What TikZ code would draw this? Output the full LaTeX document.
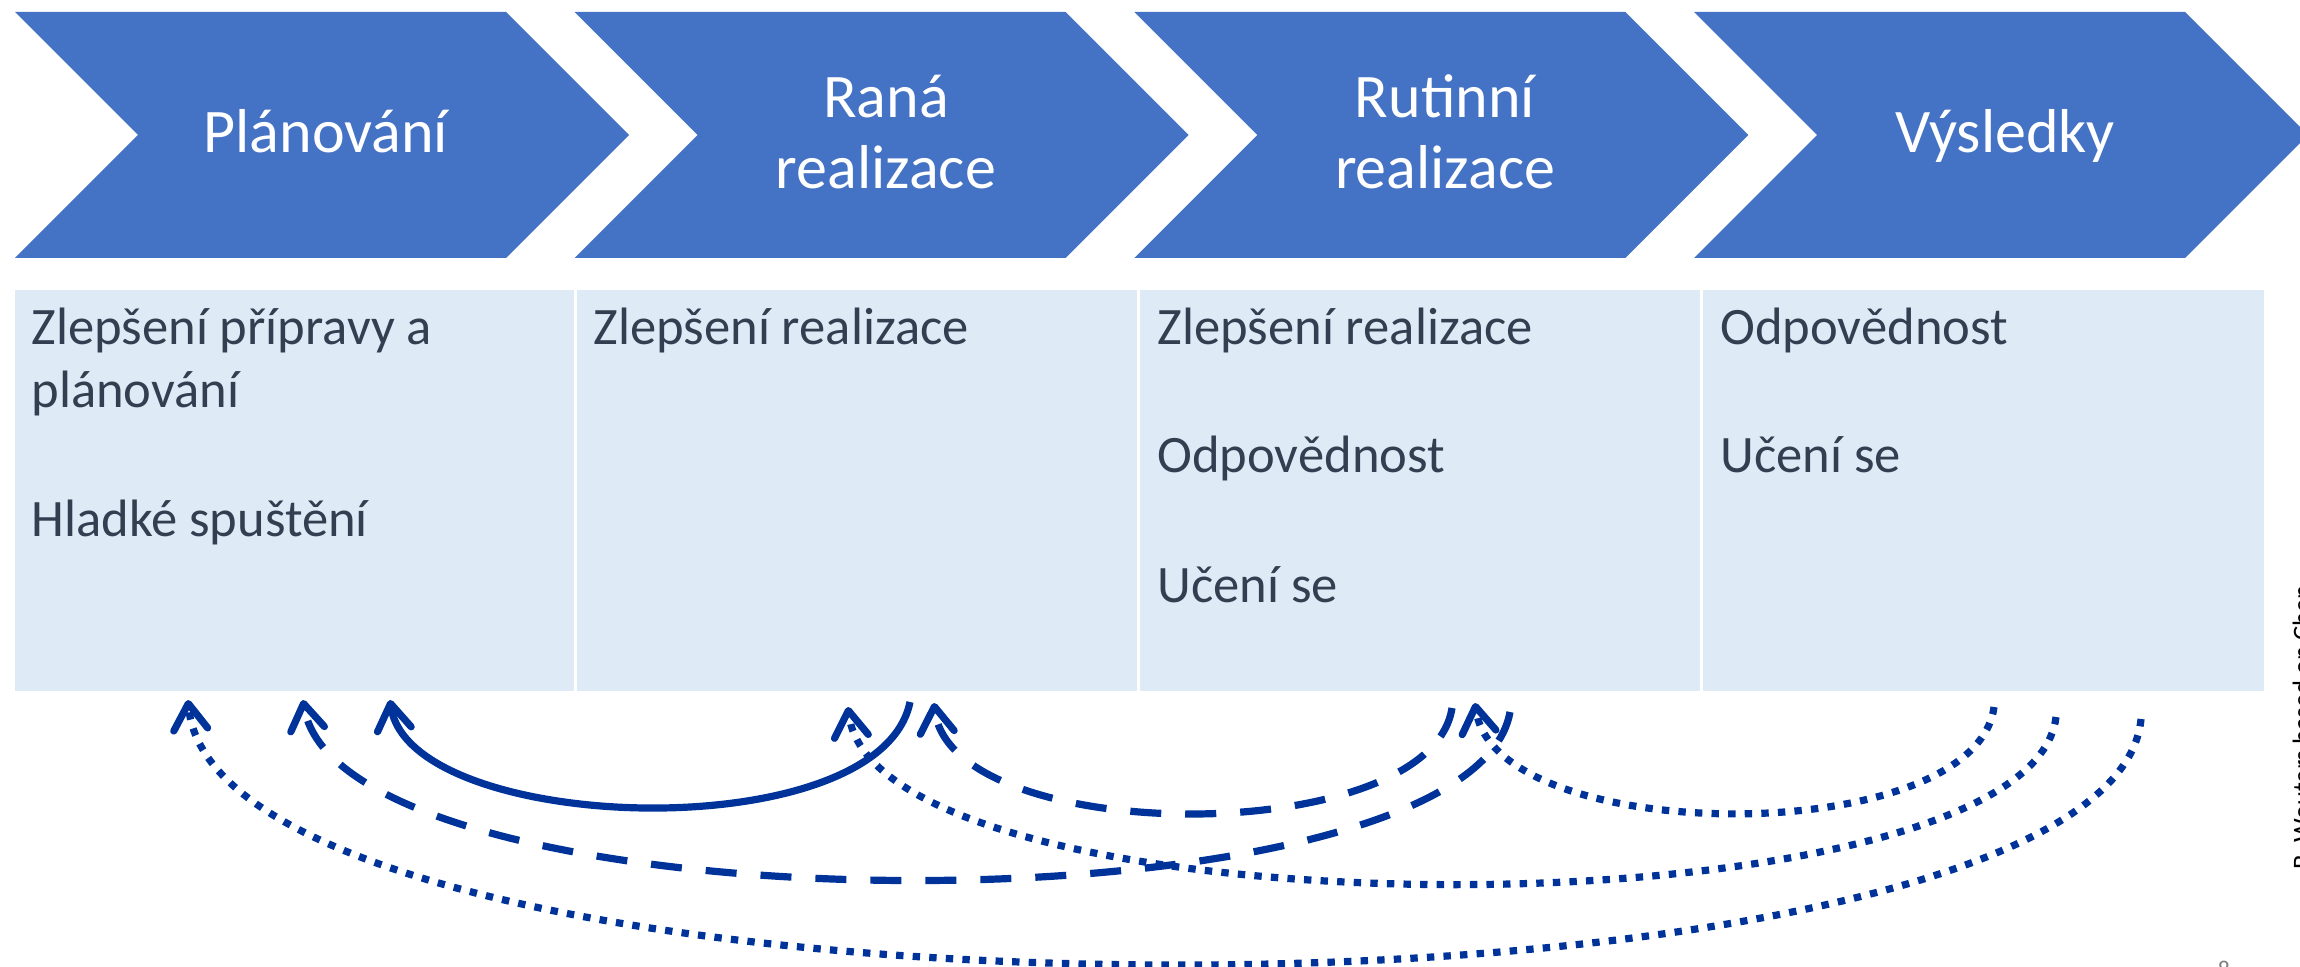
\documentclass[tikz,border=0pt]{standalone}
\usepackage{fontspec}
\setmainfont{Carlito}
\usetikzlibrary{arrows.meta}
\definecolor{chev}{RGB}{68,114,196}
\definecolor{cellc}{RGB}{222,234,246}
\definecolor{txtc}{RGB}{51,63,80}
\definecolor{arrc}{RGB}{0,51,153}
\tikzset{
  chevlabel/.style={text=white, inner sep=0pt, anchor=base, font=\fontsize{31}{35}\selectfont},
  cellbox/.style={fill=cellc, draw=none, inner sep=0pt, anchor=north west, minimum height=200.5pt},
  celltext/.style={text=txtc, inner sep=0pt, anchor=base west, font=\fontsize{26.3}{31}\selectfont},
  conn/.style={draw=arrc, line width=3.6pt, -{Straight Barb[length=13pt,width=17pt,round]}},
  dashedconn/.style={conn, dash pattern=on 15.5pt off 12pt},
  dottedconn/.style={conn, dash pattern=on 3.7pt off 4.6pt},
}
\begin{document}
\begin{tikzpicture}[x=0.5pt,y=-0.5pt]
\useasboundingbox (0,0) rectangle (2300,967);
% chevrons
\foreach \L in {15,574.7,1134.4,1694.1}
  \fill[chev] (\L,12) -- (\L+491,12) -- (\L+614,135) -- (\L+491,258) -- (\L,258) -- (\L+123,135) -- cycle;
\node[chevlabel] (h1) at (326,153) {Plánování};
\node[chevlabel] (h2a) at (886,118) {Raná};
\node[chevlabel] (h2b) at (886,189) {realizace};
\node[chevlabel] (h3a) at (1445,118) {Rutinní};
\node[chevlabel] (h3b) at (1445,189) {realizace};
\node[chevlabel] (h4) at (2005,153) {Výsledky};
% cells
\node[cellbox, minimum width=279.5pt] (c1) at (15,290) {};
\node[cellbox, minimum width=280pt] (c2) at (577,290) {};
\node[cellbox, minimum width=280pt] (c3) at (1140,290) {};
\node[cellbox, minimum width=280.5pt] (c4) at (1703,290) {};
% cell texts
\node[celltext] (t11) at (31,345) {Zlepšení přípravy a};
\node[celltext] (t12) at (31,408) {plánování};
\node[celltext] (t13) at (31,537) {Hladké spuštění};
\node[celltext] (t21) at (593,345) {Zlepšení realizace};
\node[celltext] (t31) at (1157,345) {Zlepšení realizace};
\node[celltext] (t32) at (1157,473) {Odpovědnost};
\node[celltext] (t33) at (1157,602) {Učení se};
\node[celltext] (t41) at (1720,345) {Odpovědnost};
\node[celltext] (t42) at (1720,473) {Učení se};
% side note (cut by the right edge, as in the reference) and page number
\node[rotate=90, anchor=base west, inner sep=0pt, text=black, font=\fontsize{13.3}{16}\selectfont] (src) at (2311,870) {B. Wouters based on Chen};
\node[anchor=north, inner sep=0pt, text=gray, font=\fontsize{12}{14}\selectfont] (pg) at (2224,961) {8};
% connector end points
\coordinate (sS) at (910,702);  \coordinate (eS) at (390,700);
\coordinate (sA) at (1452,708); \coordinate (eA) at (934,703);
\coordinate (sB) at (1510,712); \coordinate (eB) at (303,700);
\coordinate (sC) at (1994,707); \coordinate (eC) at (1475,703);
\coordinate (sD) at (2056,717); \coordinate (eD) at (848,707);
\coordinate (sE) at (2141,719); \coordinate (eE) at (188,700);
% connectors
\draw[conn] (sS) .. controls (880,850) and (410,835) .. (eS);
\draw[dashedconn] (sA) .. controls (1430,850) and (950,848) .. (eA);
\draw[dashedconn] (sB) .. controls (1470,940) and (340,935) .. (eB);
\draw[dottedconn] (sC) .. controls (1975,850) and (1495,848) .. (eC);
\draw[dottedconn] (sD) .. controls (2030,941) and (875,941) .. (eD);
\draw[dottedconn] (sE) .. controls (2110,1049) and (220,1049) .. (eE);
\end{tikzpicture}
\end{document}
